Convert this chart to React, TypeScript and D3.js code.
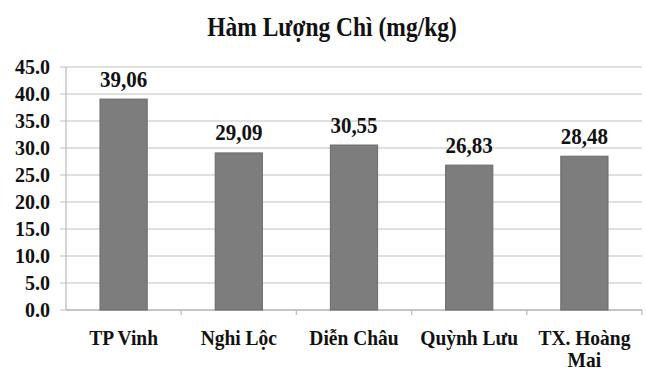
import React from "react";
import * as d3 from "d3";

const title = "Hàm Lượng Chì (mg/kg)";
const categories = ["TP Vinh", "Nghi Lộc", "Diễn Châu", "Quỳnh Lưu", "TX. Hoàng Mai"];
const values = [39.06, 29.09, 30.55, 26.83, 28.48];
const yTicks = [0, 5, 10, 15, 20, 25, 30, 35, 40, 45];

const W = 646;
const H = 371;
const margin = { top: 67, right: 4, bottom: 61, left: 66 };
const FONT = "Liberation Serif, Times New Roman, DejaVu Serif, serif";

// Break long category names onto two lines at the last space.
function wrapLabel(s: string): string[] {
  if (s.length <= 10) return [s];
  const i = s.lastIndexOf(" ");
  return [s.slice(0, i), s.slice(i + 1)];
}

// Bold serif text, slightly stretched vertically.
function Label(props: {
  x: number;
  y: number;
  size: number;
  sy?: number;
  anchor?: string;
  children: React.ReactNode;
}) {
  const { x, y, size, sy = 1, anchor = "middle", children } = props;
  return (
    <text
      transform={`translate(${x},${y}) scale(1,${sy})`}
      textAnchor={anchor}
      fontSize={size}
      fill="#111"
      style={{ fontFamily: FONT, fontWeight: 700 }}
    >
      {children}
    </text>
  );
}

export default function App() {
  const x0 = margin.left;
  const x1 = W - margin.right;
  const y0 = H - margin.bottom;
  const y1 = margin.top;

  const x = d3.scaleBand<string>().domain(categories).range([x0, x1]).padding(0);
  const y = d3.scaleLinear().domain([0, 45]).range([y0, y1]);
  const barW = x.bandwidth() * 0.41;
  const fmtTick = d3.format(".1f");
  const fmtVal = (v: number) => v.toFixed(2).replace(".", ",");

  return (
    <svg
      width={W}
      height={H}
      style={{ position: "absolute", left: 0, top: 0, background: "#fff" }}
    >
      <Label x={332} y={36} size={23.5} sy={1.12}>
        {title}
      </Label>

      {/* horizontal gridlines and y ticks */}
      {yTicks.map((t) => (
        <g key={t}>
          <line x1={x0 - 6} x2={x1} y1={y(t)} y2={y(t)} stroke="#d6d6d6" strokeWidth={1.3} />
          <Label x={50} y={y(t) + 6.5} size={20} anchor="end">
            {fmtTick(t)}
          </Label>
        </g>
      ))}

      {/* axes */}
      <line x1={x0} x2={x0} y1={y1} y2={y0} stroke="#bdbdbd" strokeWidth={1.3} />
      <line x1={x0} x2={x1} y1={y0} y2={y0} stroke="#bdbdbd" strokeWidth={1.3} />
      {categories.map((c) => (
        <line
          key={"t" + c}
          x1={(x(c) as number) + x.bandwidth()}
          x2={(x(c) as number) + x.bandwidth()}
          y1={y0}
          y2={y0 + 5}
          stroke="#bdbdbd"
          strokeWidth={1.3}
        />
      ))}

      {/* bars with value labels */}
      {categories.map((c, i) => {
        const cx = (x(c) as number) + x.bandwidth() / 2;
        return (
          <g key={c}>
            <rect
              x={cx - barW / 2}
              y={y(values[i])}
              width={barW}
              height={y(0) - y(values[i])}
              fill="#7d7d7d"
              stroke="#6a6a6a"
              strokeWidth={1}
            />
            <Label x={cx} y={y(values[i]) - 12.5} size={21} sy={1.06}>
              {fmtVal(values[i])}
            </Label>
          </g>
        );
      })}

      {/* category labels */}
      {categories.map((c) => {
        const cx = (x(c) as number) + x.bandwidth() / 2;
        return wrapLabel(c).map((line, k) => (
          <Label key={c + k} x={cx} y={y0 + 35 + k * 22} size={19.5} sy={1.1}>
            {line}
          </Label>
        ));
      })}
    </svg>
  );
}
